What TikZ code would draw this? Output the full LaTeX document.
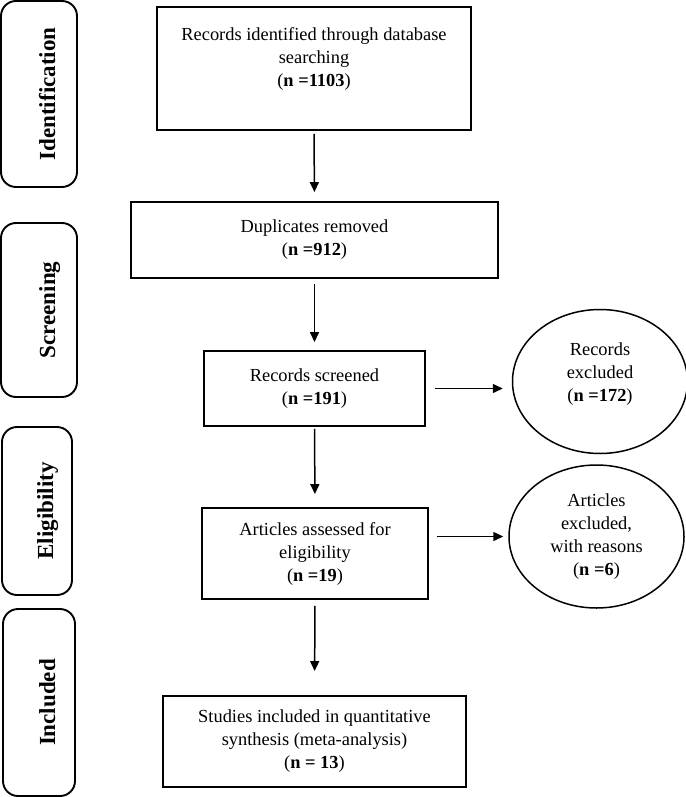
\documentclass[tikz,border=0pt]{standalone}
\usepackage{fontspec}
\setmainfont{Liberation Serif}
\usetikzlibrary{arrows.meta,shapes.geometric}

\begin{document}
\begin{tikzpicture}[x=1pt,y=-1pt,font=\fontsize{18.4}{23}\selectfont,
  box/.style={draw,line width=1.9pt,align=center,inner sep=2pt},
  excl/.style={draw,ellipse,line width=1.5pt,align=center,inner sep=0pt,minimum width=175pt,minimum height=144pt},
  phase/.style={draw,line width=1.9pt,rounded corners=15pt,rotate=90,inner sep=0pt,text height=32pt,text depth=0pt,font=\fontsize{23}{27}\selectfont\bfseries},
  flow/.style={line width=1.5pt,-{Triangle[length=10pt,width=9pt]}}]
  \useasboundingbox (0,0) rectangle (685,797);
  % phase labels on the left
  \node[phase,minimum width=186pt,minimum height=76pt] (pid) at (39,94){Identification};
  \node[phase,minimum width=174pt,minimum height=76pt] (psc) at (39,310){Screening};
  \node[phase,minimum width=168pt,minimum height=70pt] (pel) at (37,511){Eligibility};
  \node[phase,minimum width=187pt,minimum height=72pt] (pin) at (39,702.5){Included};
  % main flow
  \node[box,minimum width=314pt,minimum height=123pt] (b1) at (314,68.5){Records identified through database\\searching\\(\textbf{n =1103})\\\mbox{}};
  \node[box,minimum width=367pt,minimum height=76pt] (b2) at (314.5,240){Duplicates removed\\(\textbf{n =912})};
  \node[box,minimum width=221pt,minimum height=75pt] (b3) at (314.5,388.5){Records screened\\(\textbf{n =191})};
  \node[box,minimum width=226pt,minimum height=91pt] (b4) at (315,553.5){Articles assessed for\\eligibility\\(\textbf{n =19})};
  \node[box,minimum width=303pt,minimum height=91pt] (b5) at (314.5,741.5){Studies included in quantitative\\synthesis (meta-analysis)\\(\textbf{n = 13})};
  % exclusions
  \node[excl,text depth=19pt] (e1) at (600,381.5){Records\\excluded\\(\textbf{n =172})};
  \node[excl,minimum height=143pt] (e2) at (596.5,536.5){Articles\\excluded,\\with reasons\\(\textbf{n =6})};
  % connectors
  \draw[flow,shorten <=3pt,shorten >=9pt] (b1.south) -- (b2.north);
  \draw[flow,shorten <=5pt,shorten >=8pt] (b2.south) -- (b3.north);
  \draw[flow,shorten <=2pt,shorten >=13pt] (b3.south) -- (b4.north);
  \draw[flow,shorten <=6pt,shorten >=24pt] (b4.south) -- (b5.north);
  \draw[flow,shorten <=9pt,shorten >=9pt] (b3.east) -- (b3.east -| e1.west);
  \draw[flow,shorten <=8pt,shorten >=5pt] (e2.west -| b4.east) -- (e2.west);
\end{tikzpicture}
\end{document}
